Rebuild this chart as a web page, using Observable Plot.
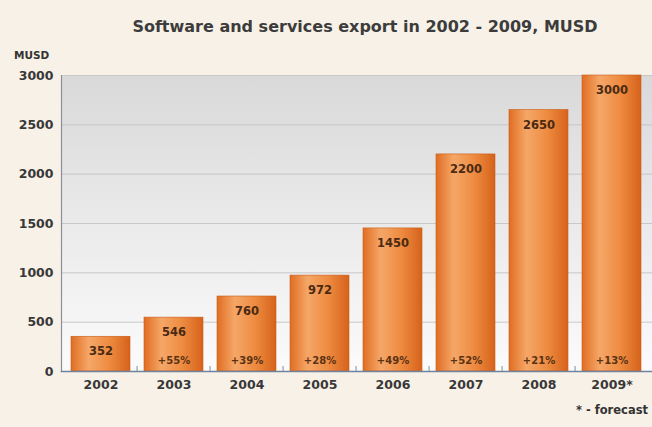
<!DOCTYPE html>
<html>
<head>
<meta charset="utf-8">
<script src="https://cdn.jsdelivr.net/npm/d3@7"></script>
<script src="https://cdn.jsdelivr.net/npm/@observablehq/plot@0.6"></script>
<style>
  html, body { margin: 0; padding: 0; }
  body { width: 652px; height: 427px; background: #f8f1e7; position: relative; overflow: hidden;
         font-family: "DejaVu Sans", sans-serif; }
  #title { position: absolute; top: 17px; left: 0; width: 730px; text-align: center;
           font-size: 16px; font-weight: bold; color: #3c3c3c; }
  #unit { position: absolute; top: 49px; left: 14px; font-size: 10.5px; font-weight: bold; color: #333; }
  #note { position: absolute; top: 403px; right: 4px; font-size: 11.5px; font-weight: bold; color: #333; white-space: nowrap; }
  #chart { position: absolute; top: 0; left: 0; }
</style>
</head>
<body>
<div id="title">Software and services export in 2002 - 2009, MUSD</div>
<div id="unit">MUSD</div>
<div id="chart"></div>
<div id="note">* - forecast</div>
<script>
const years = ["2002", "2003", "2004", "2005", "2006", "2007", "2008", "2009*"];
const values = [352, 546, 760, 972, 1450, 2200, 2650, 3000];
const growth = ["", "+55%", "+39%", "+28%", "+49%", "+52%", "+21%", "+13%"];
const yTicks = [0, 500, 1000, 1500, 2000, 2500, 3000];

const data = years.map((y, i) => ({year: y, value: values[i], growth: growth[i]}));

const W = 652, H = 427, ML = 61, MR = 0, MT = 75, MB = 56;
const step = (W - ML - MR) / 8;

const plot = Plot.plot({
  width: W,
  height: H,
  marginLeft: ML,
  marginRight: MR,
  marginTop: MT,
  marginBottom: MB,
  style: {background: "transparent", fontFamily: "DejaVu Sans, sans-serif"},
  x: {domain: years, paddingInner: 0.19, paddingOuter: 0.095, label: null},
  y: {domain: [0, 3000], label: null},
  marks: [
    Plot.frame({fill: "url(#bgGrad)", stroke: "none"}),
    Plot.gridY(yTicks, {stroke: "#c4c4c4", strokeOpacity: 0.9, strokeWidth: 1}),
    Plot.barY(data, {x: "year", y: "value", fill: "url(#barGrad)", stroke: "#c95c18", strokeWidth: 0.6}),
    Plot.text(data, {x: "year", y: "value", text: d => String(d.value), dy: 15,
      fontSize: 11.5, fontWeight: "bold", fill: "#4a2a12"}),
    Plot.text(data, {x: "year", y: 0, text: "growth", dy: -11,
      fontSize: 10, fontWeight: "bold", fill: "#5a3214"}),
    Plot.ruleX(years.slice(1), {dx: -step / 2, insetTop: H - MT - MB - 5, stroke: "#7d8ea6", strokeWidth: 1}),
    Plot.frame({anchor: "left", stroke: "#8a8f99", strokeWidth: 1.2}),
    Plot.frame({anchor: "bottom", stroke: "#6f829e", strokeWidth: 1.5}),
    Plot.axisY(yTicks, {tickSize: 0, tickPadding: 8, tickFormat: "d", fontSize: 12.5, fontWeight: "bold", fill: "#383838", label: null}),
    Plot.axisX({tickSize: 0, tickPadding: 9, fontSize: 12.5, fontWeight: "bold", fill: "#383838", label: null})
  ]
});

const svg = d3.select(plot);
const defs = svg.insert("defs", ":first-child");
const bg = defs.append("linearGradient").attr("id", "bgGrad").attr("x1", 0).attr("y1", 0).attr("x2", 0).attr("y2", 1);
bg.append("stop").attr("offset", "0%").attr("stop-color", "#d9d9da");
bg.append("stop").attr("offset", "100%").attr("stop-color", "#fbfbfb");
const bar = defs.append("linearGradient").attr("id", "barGrad").attr("x1", 0).attr("y1", 0).attr("x2", 1).attr("y2", 0);
bar.append("stop").attr("offset", "0%").attr("stop-color", "#e06d22");
bar.append("stop").attr("offset", "30%").attr("stop-color", "#f5a768");
bar.append("stop").attr("offset", "65%").attr("stop-color", "#ee8b40");
bar.append("stop").attr("offset", "100%").attr("stop-color", "#d6621b");

document.getElementById("chart").appendChild(plot);
</script>
</body>
</html>
